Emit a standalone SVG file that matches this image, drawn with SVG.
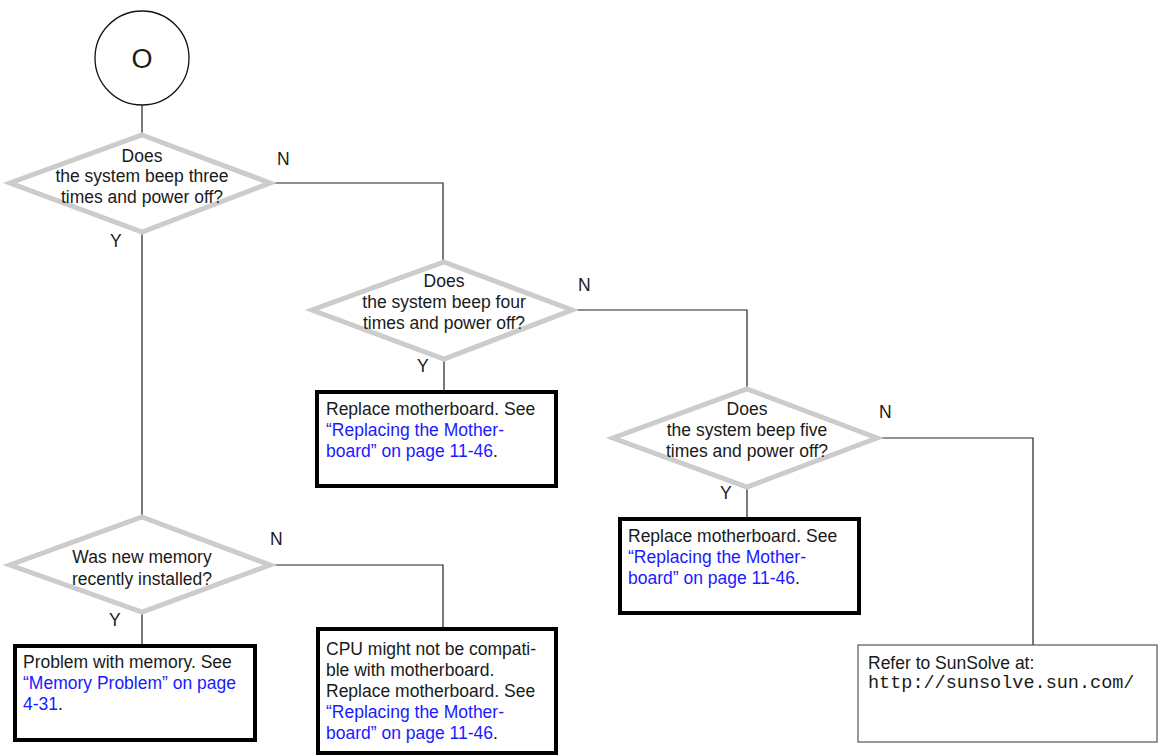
<svg xmlns="http://www.w3.org/2000/svg" width="1168" height="756" viewBox="0 0 1168 756">
<style>
text{font-family:"Liberation Sans",Arial,sans-serif;font-size:17.5px;fill:#1a1a1a}
.c{text-anchor:middle}
.lk{fill:#1a1aff}
.mono{font-family:"Liberation Mono","Courier New",monospace;font-size:18.5px}
.dia{fill:#fff;stroke:#cccccc;stroke-width:5}
.box{fill:#fff;stroke:#000;stroke-width:4}
.thin{fill:#fff;stroke:#555;stroke-width:1.2}
.ln{fill:none;stroke:#222;stroke-width:1.2}
</style>
<rect width="1168" height="756" fill="#fff"/>
<g id="connectors">
<path class="ln" d="M142 105V135"/>
<path class="ln" d="M142 232V517"/>
<path class="ln" d="M270 183H443V262"/>
<path class="ln" d="M444 359V390"/>
<path class="ln" d="M572 310H747V389"/>
<path class="ln" d="M747 487V517"/>
<path class="ln" d="M877 438H1033V645"/>
<path class="ln" d="M142 612V644"/>
<path class="ln" d="M270 565H443V627"/>
<text x="277" y="165">N</text>
<text x="110" y="247">Y</text>
<text x="578" y="291">N</text>
<text x="417" y="372">Y</text>
<text x="879" y="418">N</text>
<text x="720" y="499">Y</text>
<text x="270" y="545">N</text>
<text x="109" y="626">Y</text>
</g>
<g id="start">
<circle cx="142" cy="58" r="47" fill="#fff" stroke="#111" stroke-width="1.3"/>
<text class="c" x="142" y="68" style="font-size:27px">O</text>
</g>
<g id="d1">
<polygon class="dia" points="142,135 270,183 142,232 10,183"/>
<text class="c" x="142" y="162">Does</text>
<text class="c" x="142" y="182">the system beep three</text>
<text class="c" x="142" y="203">times and power off?</text>
</g>
<g id="d2">
<polygon class="dia" points="444,262 572,310 444,359 312,310"/>
<text class="c" x="444" y="287">Does</text>
<text class="c" x="444" y="308">the system beep four</text>
<text class="c" x="444" y="329">times and power off?</text>
</g>
<g id="b2">
<rect class="box" x="317" y="392" width="239" height="94"/>
<text x="326" y="415">Replace motherboard. See</text>
<text x="326" y="436" class="lk">“Replacing the Mother-</text>
<text x="326" y="457"><tspan class="lk">board” on page 11-46</tspan>.</text>
</g>
<g id="d3">
<polygon class="dia" points="747,389 877,438 747,487 613,438"/>
<text class="c" x="747" y="415">Does</text>
<text class="c" x="747" y="436">the system beep five</text>
<text class="c" x="747" y="457">times and power off?</text>
</g>
<g id="b3">
<rect class="box" x="620" y="519" width="239" height="94"/>
<text x="628" y="542">Replace motherboard. See</text>
<text x="628" y="563" class="lk">“Replacing the Mother-</text>
<text x="628" y="584"><tspan class="lk">board” on page 11-46</tspan>.</text>
</g>
<g id="b4">
<rect class="thin" x="858" y="645" width="299" height="97"/>
<text x="868" y="669">Refer to SunSolve at:</text>
<text x="868" y="688" class="mono">http://sunsolve.sun.com/</text>
</g>
<g id="d4">
<polygon class="dia" points="142,517 270,565 142,612 10,565"/>
<text class="c" x="142" y="563">Was new memory</text>
<text class="c" x="142" y="585">recently installed?</text>
</g>
<g id="b5">
<rect class="box" x="15" y="646" width="240" height="94"/>
<text x="23" y="668">Problem with memory. See</text>
<text x="23" y="689"><tspan class="lk">“Memory Problem” on page</tspan></text>
<text x="23" y="710"><tspan class="lk">4-31</tspan>.</text>
</g>
<g id="b6">
<rect class="box" x="318" y="629" width="238" height="124"/>
<text x="326" y="655">CPU might not be compati-</text>
<text x="326" y="676">ble with motherboard.</text>
<text x="326" y="697">Replace motherboard. See</text>
<text x="326" y="718" class="lk">“Replacing the Mother-</text>
<text x="326" y="739"><tspan class="lk">board” on page 11-46</tspan>.</text>
</g>
</svg>
